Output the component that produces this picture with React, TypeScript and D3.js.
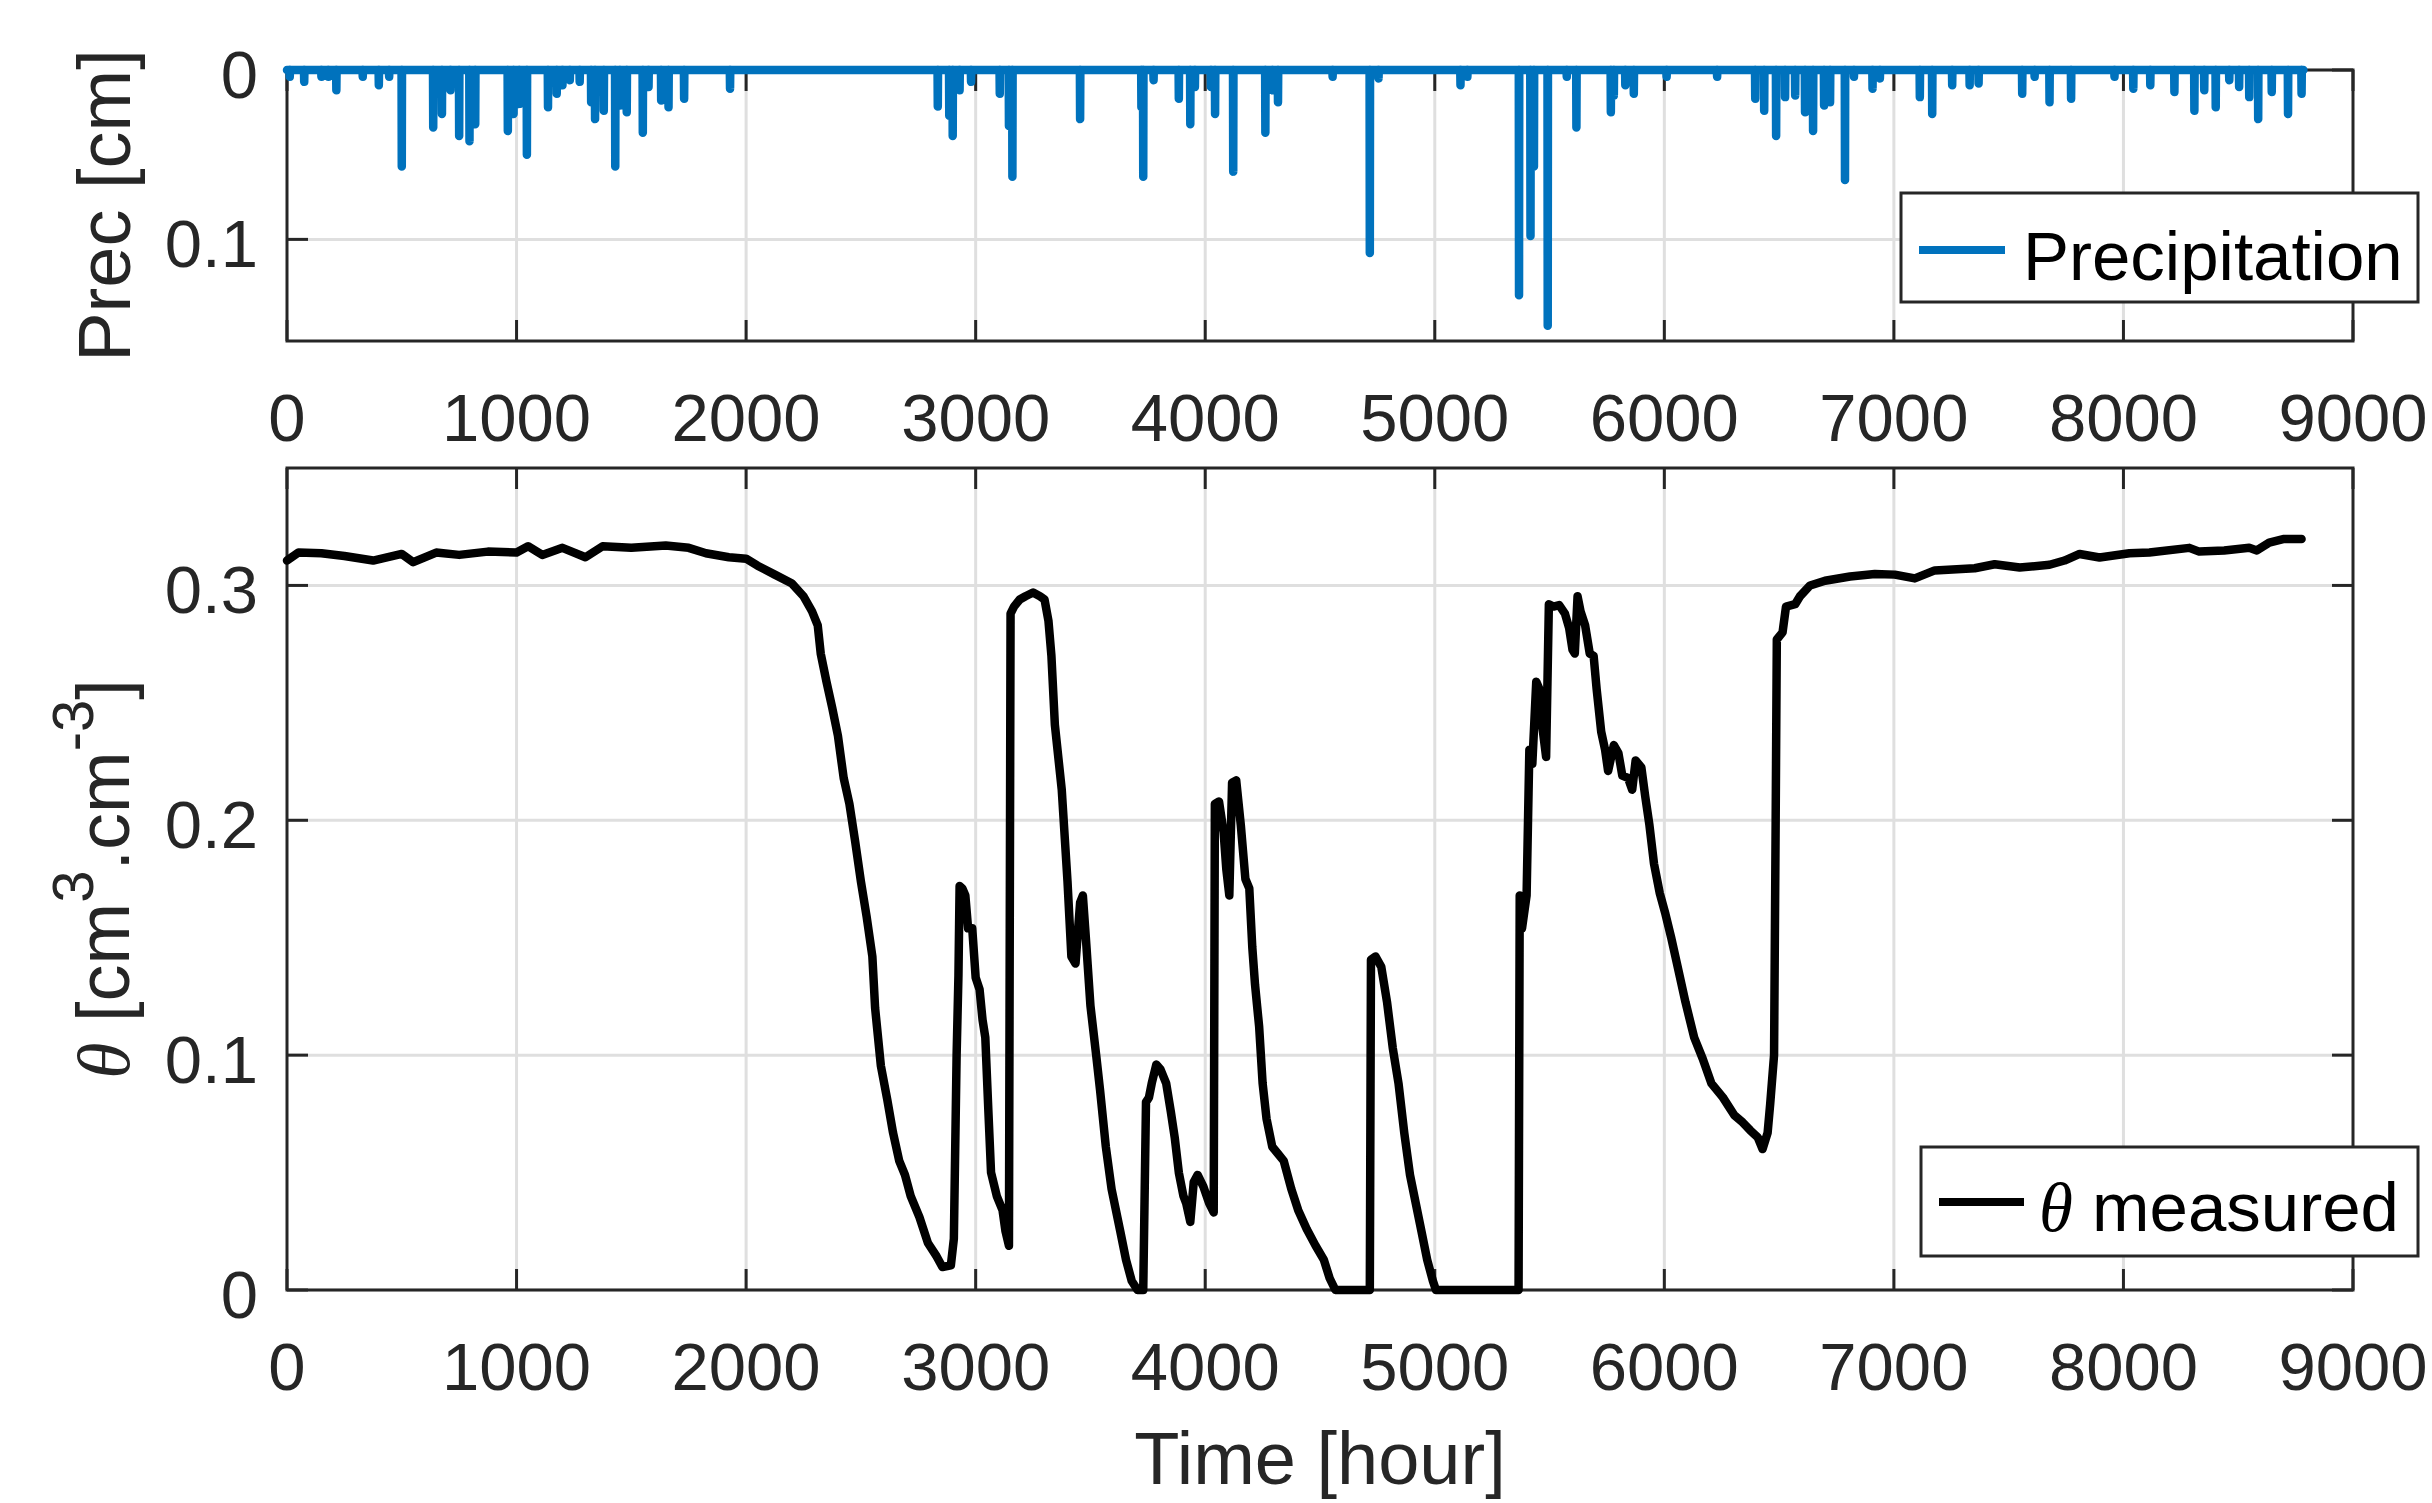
import React from "react";
import * as d3 from "d3";

// ---------- data ----------
const xTicks = [0, 1000, 2000, 3000, 4000, 5000, 6000, 7000, 8000, 9000];
const precTicks = [0, 0.1];
const thetaTicks = [0, 0.1, 0.2, 0.3];

// precipitation events: [hour, cm]
const precipEvents: [number, number][] = [
  [12, 0.004], [75, 0.007], [150, 0.004], [180, 0.004], [215, 0.012], [330, 0.004], [400, 0.009], [445, 0.004],
  [500, 0.057], [637, 0.034], [675, 0.026], [712, 0.012], [750, 0.039], [795, 0.042], [820, 0.032], [962, 0.036],
  [987, 0.026], [1012, 0.02], [1045, 0.05], [1137, 0.022], [1175, 0.014], [1200, 0.009], [1232, 0.006], [1275, 0.007],
  [1325, 0.019], [1342, 0.029], [1380, 0.024], [1430, 0.057], [1450, 0.021], [1480, 0.025], [1550, 0.037], [1575, 0.01],
  [1630, 0.018], [1662, 0.022], [1730, 0.017], [1930, 0.011],
  [2835, 0.0216], [2885, 0.027], [2900, 0.039], [2930, 0.012], [2980, 0.007], [3105, 0.014], [3145, 0.033], [3160, 0.063],
  [3455, 0.029], [3722, 0.022], [3730, 0.063], [3775, 0.006], [3885, 0.017], [3935, 0.032], [3955, 0.01], [4025, 0.01],
  [4043, 0.026], [4122, 0.06], [4262, 0.037], [4292, 0.012], [4317, 0.019], [4555, 0.004], [4717, 0.108], [4755, 0.005],
  [5112, 0.009], [5142, 0.004], [5367, 0.133], [5417, 0.098], [5432, 0.057], [5492, 0.151], [5575, 0.004], [5617, 0.034],
  [5767, 0.025], [5780, 0.015], [5830, 0.009], [5867, 0.014], [6010, 0.004], [6230, 0.004],
  [6396, 0.017], [6435, 0.024], [6487, 0.039], [6526, 0.016], [6570, 0.015], [6613, 0.025], [6648, 0.036], [6696, 0.021],
  [6722, 0.019], [6787, 0.065], [6826, 0.004], [6907, 0.011], [6939, 0.005], [7113, 0.016], [7167, 0.026], [7254, 0.009],
  [7330, 0.009], [7369, 0.008], [7559, 0.014], [7613, 0.004], [7678, 0.019], [7772, 0.017], [7961, 0.004], [8043, 0.011],
  [8117, 0.009], [8222, 0.013], [8309, 0.024], [8352, 0.012], [8402, 0.022], [8461, 0.006], [8504, 0.01], [8548, 0.016],
  [8587, 0.029], [8646, 0.013], [8717, 0.026], [8776, 0.014],
];
const precipEndHour = 8784;

// measured soil moisture: [hour, cm3/cm3]
const thetaMeasured: [number, number][] = [
  [0, 0.3106], [50, 0.314], [150, 0.3137], [250, 0.3125], [375, 0.3106], [500, 0.3134], [550, 0.3099], [650, 0.314],
  [750, 0.313], [875, 0.3144], [1000, 0.314], [1050, 0.3167], [1112, 0.313], [1200, 0.316], [1300, 0.312], [1375, 0.3167],
  [1500, 0.316], [1650, 0.317], [1750, 0.316], [1825, 0.3137], [1925, 0.312], [2000, 0.3114], [2050, 0.3084], [2125, 0.3046],
  [2200, 0.3008], [2250, 0.2954], [2287, 0.289], [2312, 0.283], [2325, 0.271], [2350, 0.259], [2375, 0.248], [2400, 0.236],
  [2425, 0.218], [2450, 0.207], [2475, 0.191], [2500, 0.174], [2525, 0.159], [2550, 0.142], [2562, 0.12], [2587, 0.0955],
  [2615, 0.081], [2640, 0.067], [2667, 0.055], [2692, 0.049], [2717, 0.04], [2755, 0.031], [2792, 0.02], [2830, 0.0143],
  [2855, 0.0098], [2892, 0.0105], [2905, 0.0218], [2917, 0.1], [2925, 0.134], [2930, 0.172], [2942, 0.171], [2955, 0.168],
  [2967, 0.154], [2985, 0.154], [3000, 0.133], [3017, 0.128], [3030, 0.115], [3042, 0.1075], [3055, 0.077], [3067, 0.05],
  [3092, 0.04], [3117, 0.034], [3130, 0.025], [3145, 0.0188], [3152, 0.288], [3167, 0.291], [3192, 0.294], [3217, 0.2954],
  [3250, 0.297], [3280, 0.2954], [3300, 0.294], [3317, 0.285], [3330, 0.27], [3345, 0.2407], [3375, 0.213], [3400, 0.174],
  [3417, 0.142], [3435, 0.139], [3455, 0.165], [3467, 0.168], [3480, 0.15], [3500, 0.121], [3525, 0.1], [3542, 0.085],
  [3567, 0.061], [3592, 0.043], [3630, 0.025], [3655, 0.0128], [3680, 0.0038], [3705, 0], [3730, 0], [3742, 0.08],
  [3755, 0.082], [3767, 0.088], [3787, 0.096], [3805, 0.094], [3830, 0.088], [3850, 0.076], [3867, 0.065], [3885, 0.05],
  [3905, 0.04], [3917, 0.037], [3935, 0.029], [3950, 0.046], [3967, 0.049], [3992, 0.044], [4017, 0.037], [4037, 0.033],
  [4042, 0.207], [4060, 0.208], [4080, 0.195], [4092, 0.179], [4105, 0.168], [4117, 0.216], [4135, 0.217], [4155, 0.198],
  [4175, 0.175], [4192, 0.171], [4205, 0.146], [4217, 0.13], [4235, 0.112], [4250, 0.088], [4267, 0.073], [4292, 0.061],
  [4317, 0.058], [4342, 0.055], [4375, 0.043], [4405, 0.034], [4442, 0.026], [4480, 0.019], [4517, 0.0128], [4542, 0.005],
  [4567, 0], [4717, 0], [4722, 0.1406], [4742, 0.142], [4767, 0.1376], [4792, 0.1226], [4817, 0.103], [4842, 0.088],
  [4867, 0.067], [4892, 0.049], [4917, 0.037], [4942, 0.025], [4967, 0.0128], [4992, 0.0038], [5005, 0], [5365, 0],
  [5370, 0.168], [5380, 0.154], [5400, 0.168], [5412, 0.23], [5425, 0.224], [5442, 0.259], [5455, 0.256], [5467, 0.241],
  [5485, 0.227], [5497, 0.292], [5517, 0.291], [5542, 0.2916], [5567, 0.288], [5585, 0.282], [5600, 0.2726], [5610, 0.271],
  [5622, 0.2954], [5635, 0.289], [5655, 0.283], [5675, 0.271], [5692, 0.27], [5705, 0.256], [5725, 0.2377], [5742, 0.23],
  [5755, 0.221], [5780, 0.232], [5800, 0.2286], [5817, 0.219], [5842, 0.218], [5860, 0.213], [5875, 0.2255], [5900, 0.2225],
  [5917, 0.21], [5935, 0.198], [5955, 0.1815], [5980, 0.169], [6005, 0.16], [6030, 0.15], [6055, 0.139], [6092, 0.1226],
  [6130, 0.1075], [6167, 0.0985], [6205, 0.088], [6255, 0.082], [6305, 0.0744], [6341, 0.0714], [6374, 0.068], [6407, 0.065],
  [6428, 0.06], [6450, 0.067], [6461, 0.079], [6478, 0.1], [6485, 0.2], [6490, 0.277], [6515, 0.28], [6530, 0.291],
  [6570, 0.292], [6591, 0.2954], [6635, 0.3], [6700, 0.302], [6809, 0.3038], [6917, 0.3049], [7004, 0.3046], [7091, 0.303],
  [7178, 0.3064], [7352, 0.3073], [7439, 0.309], [7548, 0.3076], [7678, 0.3088], [7743, 0.3106], [7809, 0.3134], [7896, 0.3119],
  [8026, 0.3137], [8113, 0.314], [8287, 0.316], [8330, 0.3144], [8439, 0.3149], [8548, 0.316], [8581, 0.3149], [8635, 0.3182],
  [8700, 0.3198], [8776, 0.3198],
];

// ---------- layout ----------
const W = 2432;
const H = 1503;
const L = 287;
const R = 2353;
const top1 = 70, bot1 = 341;
const top2 = 468, bot2 = 1290;

const AX = "#262626";
const GRID = "#dfdfdf";
const BLUE = "#0072BD";
const FONT = "'Liberation Sans', Arial, Helvetica, sans-serif";
const SERIF = "'Liberation Serif', 'DejaVu Serif', serif";
const TICK_FS = 67;
const LABEL_FS = 74;
const LEG_FS = 69;
const TICK_LEN = 21;
const DATA_W = 8.5;

function buildPrecipSeries(): [number, number][] {
  const s: [number, number][] = [[0, 0]];
  for (const [h, v] of precipEvents) {
    s.push([h - 1, 0], [h, v], [h + 1, 0]);
  }
  s.push([precipEndHour, 0]);
  return s;
}

function Axes({ y, yTicks, top, bottom, fmt }: any) {
  const x = d3.scaleLinear().domain([0, 9000]).range([L, R]);
  return (
    <g>
      {xTicks.slice(1, -1).map((t) => (
        <line key={"gx" + t} x1={x(t)} x2={x(t)} y1={top} y2={bottom} stroke={GRID} strokeWidth={3} />
      ))}
      {yTicks.map((t: number) => (
        <line key={"gy" + t} x1={L} x2={R} y1={y(t)} y2={y(t)} stroke={GRID} strokeWidth={3} />
      ))}
      <rect x={L} y={top} width={R - L} height={bottom - top} fill="none" stroke={AX} strokeWidth={3} />
      {xTicks.map((t) => (
        <g key={"tx" + t}>
          <line x1={x(t)} x2={x(t)} y1={bottom} y2={bottom - TICK_LEN} stroke={AX} strokeWidth={3} />
          <line x1={x(t)} x2={x(t)} y1={top} y2={top + TICK_LEN} stroke={AX} strokeWidth={3} />
          <text x={x(t)} y={bottom + 100} textAnchor="middle" fontSize={TICK_FS} fill={AX} fontFamily={FONT}>
            {t}
          </text>
        </g>
      ))}
      {yTicks.map((t: number) => (
        <g key={"ty" + t}>
          <line x1={L} x2={L + TICK_LEN} y1={y(t)} y2={y(t)} stroke={AX} strokeWidth={3} />
          <line x1={R} x2={R - TICK_LEN} y1={y(t)} y2={y(t)} stroke={AX} strokeWidth={3} />
          <text x={258} y={y(t) + 28} textAnchor="end" fontSize={TICK_FS} fill={AX} fontFamily={FONT}>
            {fmt(t)}
          </text>
        </g>
      ))}
    </g>
  );
}

export default function App() {
  const x = d3.scaleLinear().domain([0, 9000]).range([L, R]);
  const yP = d3.scaleLinear().domain([0, 0.16]).range([top1, bot1]);
  const yT = d3.scaleLinear().domain([0, 0.35]).range([bot2, top2]);
  const fmt = (t: number) => (t === 0 ? "0" : d3.format(".1f")(t));

  const precipLine = d3
    .line<[number, number]>()
    .x((d) => x(d[0]))
    .y((d) => yP(d[1]));
  const thetaLine = d3
    .line<[number, number]>()
    .x((d) => x(d[0]))
    .y((d) => yT(d[1]));

  const precipSeries = buildPrecipSeries();

  return (
    <svg
      width={W}
      height={H}
      viewBox={`0 0 ${W} ${H}`}
      style={{ position: "absolute", left: 0, top: 0, background: "#fff" }}
    >
      <rect x={0} y={0} width={W} height={H} fill="#fff" />

      {/* top axes */}
      <Axes y={yP} yTicks={precTicks} top={top1} bottom={bot1} fmt={fmt} />
      <path
        d={precipLine(precipSeries) || ""}
        fill="none"
        stroke={BLUE}
        strokeWidth={DATA_W}
        strokeLinejoin="round"
        strokeLinecap="round"
      />
      <text
        transform={`translate(130, ${(top1 + bot1) / 2}) rotate(-90)`}
        textAnchor="middle"
        fontSize={LABEL_FS}
        fill={AX}
        fontFamily={FONT}
      >
        Prec [cm]
      </text>
      <rect x={1901} y={193} width={517} height={109} fill="#fff" stroke={AX} strokeWidth={3} />
      <line x1={1919} x2={2005} y1={250} y2={250} stroke={BLUE} strokeWidth={8} />
      <text x={2023} y={280} fontSize={LEG_FS} fill="#000" fontFamily={FONT}>
        Precipitation
      </text>

      {/* bottom axes */}
      <Axes y={yT} yTicks={thetaTicks} top={top2} bottom={bot2} fmt={fmt} />
      <path
        d={thetaLine(thetaMeasured) || ""}
        fill="none"
        stroke="#000"
        strokeWidth={DATA_W}
        strokeLinejoin="round"
        strokeLinecap="round"
      />
      <text
        transform={`translate(129, ${(top2 + bot2) / 2}) rotate(-90)`}
        textAnchor="middle"
        fontSize={LABEL_FS}
        fill={AX}
        fontFamily={FONT}
      >
        <tspan fontFamily={SERIF} fontStyle="italic">θ</tspan>
        <tspan> [cm</tspan>
        <tspan fontSize={58} dy={-36}>3</tspan>
        <tspan dy={36}>.cm</tspan>
        <tspan fontSize={58} dy={-36}>-3</tspan>
        <tspan dy={36}>]</tspan>
      </text>
      <text x={(L + R) / 2} y={1484} textAnchor="middle" fontSize={LABEL_FS} fill={AX} fontFamily={FONT}>
        Time [hour]
      </text>
      <rect x={1921} y={1147} width={497} height={109} fill="#fff" stroke={AX} strokeWidth={3} />
      <line x1={1939} x2={2024} y1={1202} y2={1202} stroke="#000" strokeWidth={8} />
      <text x={2039} y={1231} fontSize={LEG_FS} fill="#000" fontFamily={FONT}>
        <tspan fontFamily={SERIF} fontStyle="italic">θ</tspan>
        <tspan> measured</tspan>
      </text>
    </svg>
  );
}
